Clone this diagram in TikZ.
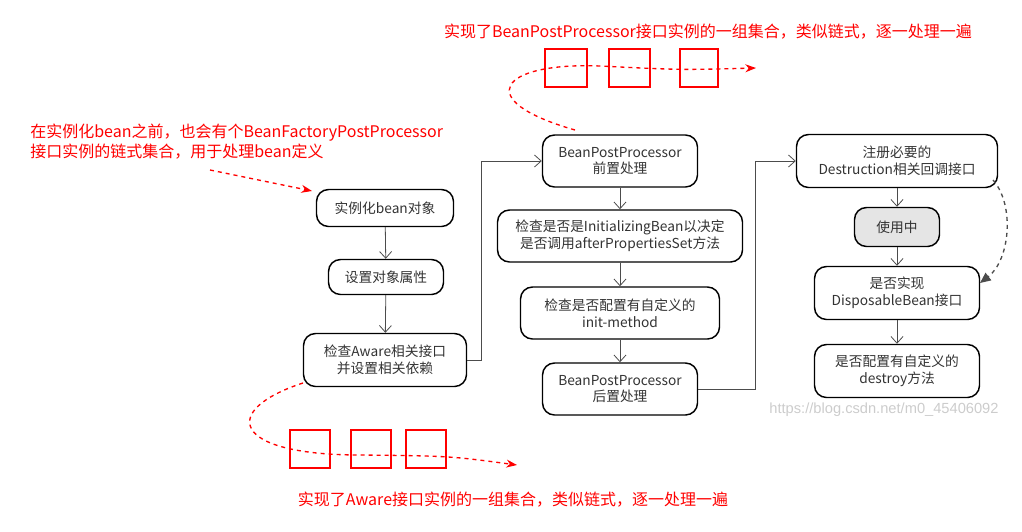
\documentclass[tikz,border=0pt]{standalone}
\usepackage{fontspec}
\setmainfont{Liberation Serif}
\newfontfamily\cjk{Noto Sans CJK SC}
\newfontfamily\lsans{Liberation Sans}
\usetikzlibrary{arrows.meta}
\begin{document}
\begin{tikzpicture}[x=0.75pt,y=-0.75pt,
  box/.style={draw,line width=1.1pt,rounded corners=9pt,align=center,font=\cjk\fontsize{10.3}{12.5}\selectfont,text=black!80,inner sep=2pt},
  flow/.style={draw=black!70,line width=0.6pt,-{Straight Barb[length=5pt,width=9pt]}},
  red/.style={draw=red,line width=1.2pt},
  ann/.style={red,dashed,line width=1pt,-{Stealth[length=8pt,width=6pt]}},
  rtxt/.style={text=red,font=\cjk\fontsize{12}{14.5}\selectfont,inner sep=0pt}]
\useasboundingbox (0,0) rectangle (1022,532);
\node[box,minimum width=137*0.75pt,minimum height=37*0.75pt] (A) at (385,208) {实例化bean对象};
\node[box,minimum width=115*0.75pt,minimum height=35*0.75pt] (B) at (386,277) {设置对象属性};
\node[box,minimum width=163*0.75pt,minimum height=53*0.75pt] (C) at (385,360) {检查Aware相关接口\\并设置相关依赖};
\node[box,minimum width=155*0.75pt,minimum height=52*0.75pt] (D) at (620,161) {BeanPostProcessor\\前置处理};
\node[box,minimum width=245*0.75pt,minimum height=52*0.75pt] (E) at (620,236) {检查是否是InitializingBean以决定\\是否调用afterPropertiesSet方法};
\node[box,minimum width=199*0.75pt,minimum height=52*0.75pt] (F) at (620,313) {检查是否配置有自定义的\\init-method};
\node[box,minimum width=155*0.75pt,minimum height=52*0.75pt] (G) at (620,389) {BeanPostProcessor\\后置处理};
\node[box,minimum width=201*0.75pt,minimum height=53*0.75pt] (H) at (897,161) {注册必要的\\Destruction相关回调接口};
\node[box,fill=black!10,minimum width=85*0.75pt,minimum height=39*0.75pt] (I) at (897,227) {使用中};
\node[box,minimum width=165*0.75pt,minimum height=53*0.75pt] (J) at (897,293) {是否实现\\DisposableBean接口};
\node[box,minimum width=165*0.75pt,minimum height=53*0.75pt] (K) at (897,371) {是否配置有自定义的\\destroy方法};
\draw[flow] (A) -- (B);
\draw[flow] (B) -- (C);
\draw[flow] (D) -- (E);
\draw[flow] (E) -- (F);
\draw[flow] (F) -- (G);
\draw[flow] (H) -- (I);
\draw[flow] (I) -- (J);
\draw[flow] (J) -- (K);
\draw[flow] (C.east) -- ++(14,0) |- (D.west);
\draw[flow] (G.east) -- ++(57,0) |- (H.west);
\coordinate (hs) at (993,180);
\coordinate (je) at (980,283);
\draw[black!70,dashed,line width=1pt,-{Triangle[length=8pt,width=7pt]}] (hs) .. controls (1015,205) and (1010,260) .. (je);
\node[text=black!20,font=\lsans\fontsize{11}{13}\selectfont] (wm) at (884,410) {https://blog.csdn.net/m0\_45406092};
% annotations
\node[rtxt] (t1) at (708,32) {实现了BeanPostProcessor接口实例的一组集合，类似链式，逐一处理一遍};
\node[rtxt,align=left,anchor=north west] (t2) at (30,124) {在实例化bean之前，也会有个BeanFactoryPostProcessor\\接口实例的链式集合，用于处理bean定义};
\node[rtxt] (t3) at (513,500) {实现了Aware接口实例的一组集合，类似链式，逐一处理一遍};
\foreach \x/\w in {545/42,609/41,680/38} \draw[red] (\x,49) rectangle ++(\w,38);
\foreach \x/\w in {290/40,351/40,406/40} \draw[red] (\x,430) rectangle ++(\w,38);
\coordinate (a1) at (210,170);
\coordinate (a2) at (312,191);
\draw[ann] (a1) -- (a2);
\coordinate (b1) at (575,130);
\coordinate (b2) at (756,68);
\draw[ann] (b1) .. controls (470,100) and (500,62) .. (600,66) .. controls (680,70) .. (b2);
\coordinate (c1) at (303,383);
\coordinate (c2) at (517,465);
\draw[ann] (c1) .. controls (220,410) and (230,455) .. (360,455) .. controls (450,456) .. (c2);
\end{tikzpicture}
\end{document}
